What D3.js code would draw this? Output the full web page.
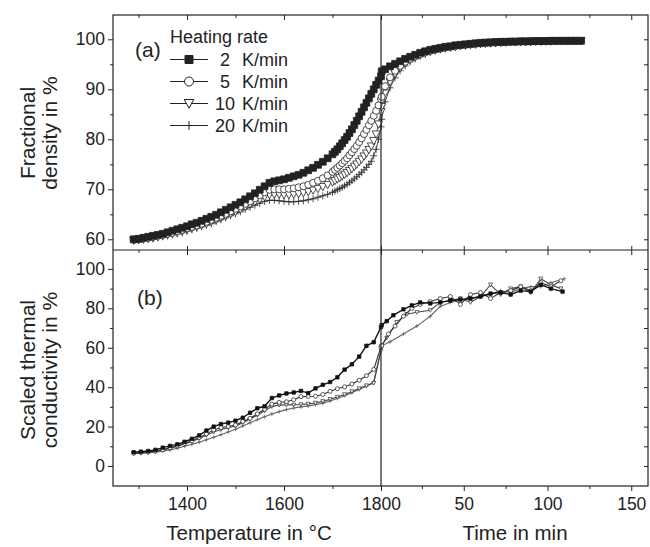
<!DOCTYPE html>
<html><head><meta charset="utf-8">
<script src="https://cdn.jsdelivr.net/npm/d3@7"></script>
<style>
body{margin:0;background:#fff}
svg{display:block}
text{font-family:"Liberation Sans",Arial,Helvetica,sans-serif;fill:#222}
</style>
</head><body><svg id="c" width="650" height="547"></svg>
<script>
// ---------------- DATA ----------------
const seriesNames = ["2  K/min","5  K/min","10 K/min","20 K/min"];
const legendTitle = "Heating rate";

// (a) fractional density vs temperature
const densTemp = [1290,1300,1310,1320,1330,1340,1350,1360,1370,1380,1390,1400,1410,1420,1430,1440,1450,1460,1470,1480,1490,1500,1510,1520,1530,1540,1550,1560,1570,1580,1590,1600,1610,1620,1630,1640,1650,1660,1670,1680,1690,1700,
  1705,1710,1715,1720,1725,1730,1735,1740,1745,1750,1755,1760,1765,1770,1775,1780,1785,1790,1795,1800];
const dens2T = [60.0,60.1,60.3,60.5,60.7,60.9,61.1,61.4,61.7,62.0,62.3,62.6,63.0,63.3,63.7,64.1,64.5,64.9,65.4,65.9,66.4,66.9,67.4,68.0,68.6,69.2,69.9,70.6,71.3,71.6,71.8,72.0,72.3,72.6,72.9,73.3,73.8,74.3,74.9,75.5,76.2,77.0,
  77.5,78.0,78.6,79.2,79.85,80.5,81.25,82.0,82.85,83.7,84.6,85.5,86.4,87.3,88.2,89.1,90.0,90.9,91.75,92.6];
const dens5T = [59.9,60.0,60.2,60.3,60.5,60.7,60.9,61.1,61.3,61.6,61.9,62.2,62.5,62.8,63.1,63.5,63.9,64.3,64.7,65.1,65.6,66.1,66.6,67.1,67.6,68.2,68.8,69.4,69.9,70.0,70.0,70.0,70.1,70.2,70.4,70.6,70.9,71.3,71.7,72.2,72.8,73.5,
  73.9,74.3,74.75,75.2,75.7,76.2,76.8,77.4,78.05,78.7,79.45,80.2,81.05,81.9,82.8,83.7,84.7,85.7,86.8,88.0];
const dens10T = [59.8,59.9,60.0,60.2,60.3,60.5,60.7,60.9,61.1,61.3,61.6,61.9,62.2,62.5,62.8,63.1,63.5,63.9,64.3,64.7,65.1,65.5,66.0,66.5,67.0,67.5,68.0,68.5,68.9,69.0,69.0,68.9,68.9,69.0,69.1,69.3,69.5,69.8,70.1,70.5,70.9,71.4,
  71.7,72.0,72.3,72.6,72.95,73.3,73.7,74.1,74.55,75.0,75.5,76.0,76.6,77.2,77.9,78.6,79.7,81.0,83.0,85.5];
const dens20T = [59.7,59.8,59.9,60.0,60.1,60.3,60.5,60.7,60.9,61.1,61.3,61.6,61.9,62.2,62.5,62.8,63.1,63.5,63.9,64.3,64.7,65.1,65.5,66.0,66.4,66.8,67.2,67.6,67.8,67.8,67.7,67.6,67.5,67.5,67.6,67.7,67.9,68.1,68.4,68.7,69.0,69.4,
  69.65,69.9,70.15,70.4,70.7,71.0,71.35,71.7,72.1,72.5,72.95,73.4,73.9,74.4,75.0,75.6,76.7,78.0,80.0,82.5];
// (a) fractional density vs isothermal time at 1800 °C
const densTime = [1,3,6,9,12,15,18,21,24,27,30,33,36,39,42,45,48,51,54,57,60,63,66,69,72,75,78,81,84,87,90,93,96,99,102,105,108,111,114,117,120];
const dens2t = [93.6,94.0,94.6,95.1,95.6,96.1,96.5,96.9,97.3,97.6,97.9,98.1,98.3,98.5,98.6,98.8,98.9,99.0,99.1,99.2,99.3,99.35,99.4,99.45,99.5,99.5,99.55,99.55,99.6,99.6,99.6,99.65,99.65,99.65,99.7,99.7,99.7,99.7,99.7,99.7,99.7];
const dens5t = [88.5,90.6,92.4,93.7,94.7,95.5,96.1,96.6,97.0,97.4,97.7,97.95,98.15,98.35,98.5,98.65,98.8,98.9,99.0,99.1,99.2,99.25,99.3,99.35,99.4,99.45,99.5,99.5,99.55,99.55,99.6,99.6,99.6,99.65,99.65,99.65,99.7,99.7,99.7,99.7,99.7];
const dens10t = [86.5,89.2,91.5,93.1,94.3,95.2,95.9,96.4,96.9,97.3,97.6,97.85,98.05,98.25,98.4,98.55,98.7,98.8,98.9,99.0,99.1,99.15,99.2,99.3,99.35,99.4,99.45,99.45,99.5,99.5,99.55,99.55,99.6,99.6,99.6,99.65,99.65,99.65,99.7,99.7,99.7];
const dens20t = [84.0,87.5,90.3,92.3,93.7,94.7,95.5,96.1,96.6,97.0,97.35,97.65,97.9,98.1,98.3,98.45,98.6,98.7,98.8,98.9,99.0,99.1,99.15,99.2,99.3,99.35,99.4,99.4,99.45,99.5,99.5,99.55,99.55,99.6,99.6,99.6,99.65,99.65,99.65,99.7,99.7];

// (b) scaled thermal conductivity vs temperature
const condTemp = [1290,1305,1320,1335,1350,1365,1380,1395,1410,1425,1440,1455,1470,1485,1500,1515,1530,1545,1560,1575,1590,1605,1620,1635,1650,1665,1680,1695,1710,1725,1740,1755,1770,1785,1800];
const cond2T = [7.0,7.3,7.6,8.2,9.3,10.2,11.0,12.3,13.8,15.5,18.0,20.0,21.3,22.0,23.0,24.5,27.0,29.3,30.3,34.5,35.8,36.8,37.3,38.1,37.0,39.4,41.2,42.6,45.0,48.9,51.6,55.5,61.0,62.8,70.5];
const cond5T = [6.5,6.8,7.1,7.6,8.3,9.2,10.2,11.5,12.8,14.4,16.3,18.3,19.5,20.0,20.8,22.6,24.2,26.5,28.8,31.4,32.3,32.6,33.6,35.2,35.3,35.4,36.3,37.9,39.2,40.2,41.6,43.5,45.8,49.0,60.5];
const cond10T = [6.4,6.6,6.9,7.4,8.1,9.0,10.0,11.2,12.5,14.0,15.6,17.2,18.5,19.4,20.3,22.0,23.8,25.8,28.0,30.2,30.9,31.0,31.0,31.2,31.5,32.0,32.8,33.9,35.0,36.3,37.8,39.3,40.8,42.0,58.5];
const cond20T = [6.3,6.5,6.7,7.0,7.5,8.2,9.0,10.0,11.0,12.1,13.3,14.6,15.9,17.3,18.7,20.3,21.9,23.5,25.0,26.4,27.6,28.6,29.4,30.0,30.5,31.1,31.9,33.0,34.3,35.7,37.2,38.8,40.4,42.8,59.0];
// (b) scaled thermal conductivity vs time
const cond2Time = [1,4,8,14,19,24,30,36,42,48,54,60,66,72,78,84,90,96,102,109];
const cond2t = [71.5,73.5,76.5,79.5,81.5,83.0,82.5,83.0,84.0,84.5,85.0,86.0,87.5,88.0,87.0,89.0,88.5,92.0,90.0,88.5];
const cond5Time = [1,5,9,14,19,24,30,36,42,48,54,60,66,72,78,84,90,96,102,108];
const cond5t = [61,67,71,76,80,82,83.5,85,86,82,87,88,85,88,89,91,89,93,91,94];
const cond10Time = [1,4,10,16,22,30,36,42,48,54,60,66,72,78,84,90,96,102,108];
const cond10t = [61,65,73,77,78,79,83,84,85,83,86,92,87,90,91,88,95,92,90];
const cond20Time = [1,6,14,22,30,36,42,48,54,60,66,72,78,84,90,96,102,110];
const cond20t = [61,63,67,71,76,81,83,84,85,86,87,89,88,90,91,91,93,95];

const tempTicks = [1400,1600,1800], tempMinor = [1300,1500,1700];
const timeTicks = [50,100,150], timeMinor = [25,75,125];
const densTicks = [60,70,80,90,100], densMinor = [65,75,85,95];
const condTicks = [0,20,40,60,80,100], condMinor = [10,30,50,70,90];

// ---------------- LAYOUT ----------------
const svg = d3.select('#c');
const L=113, R=648, T=15, M=250, B=486, XD=381;
const xT = d3.scaleLinear().domain([1247.4,1800]).range([L,XD]);
const xt = d3.scaleLinear().domain([0,160]).range([380,R]);
const yA = d3.scaleLinear().domain([57.86,104.86]).range([M,T]);
const yB = d3.scaleLinear().domain([-10.15,109.6]).range([B,M]);
const ink = '#222';

svg.append('rect').attr('width',650).attr('height',547).attr('fill','#fff');

function pts(temps, tv, times, tt, y){
  const n1 = Math.min(temps.length, tv.length), n2 = Math.min(times.length, tt.length);
  const a = temps.slice(0,n1).map((d,i)=>({x:xT(d), y:y(tv[i])}));
  const b = times.slice(0,n2).map((d,i)=>({x:xt(d), y:y(tt[i])}));
  return a.concat(b);
}
const line = d3.line().x(d=>d.x).y(d=>d.y);

const mk = {
  sq: s => `M${-s/2},${-s/2}h${s}v${s}h${-s}Z`,
  ci: s => d3.arc()({innerRadius:0,outerRadius:s/2,startAngle:0,endAngle:2*Math.PI}),
  tri: s => `M${-s/2},${-s*0.42}L${s/2},${-s*0.42}L0,${s*0.5}Z`,
  plus: s => `M${-s/2},0H${s/2}M0,${-s/2}V${s/2}`
};
const styles = [
  {m:'sq', fill:ink},
  {m:'ci', fill:'#fff'},
  {m:'tri', fill:'#fff'},
  {m:'plus', fill:'none'}
];

// ---------------- PANEL (a) ----------------
const densSets = [
  pts(densTemp,dens2T,densTime,dens2t,yA),
  pts(densTemp,dens5T,densTime,dens5t,yA),
  pts(densTemp,dens10T,densTime,dens10t,yA),
  pts(densTemp,dens20T,densTime,dens20t,yA)
];
const gA = svg.append('g');
[3,2,1,0].forEach(k=>{
  const st = styles[k];
  gA.append('path').attr('d',line(densSets[k])).attr('fill','none').attr('stroke',ink).attr('stroke-width',0.8);
  const sz = [6.8,7,8,7][k];
  gA.selectAll(null).data(densSets[k]).join('path')
    .attr('transform',d=>`translate(${d.x},${d.y})`)
    .attr('d',mk[st.m](sz)).attr('fill',st.fill).attr('stroke',ink).attr('stroke-width',0.8);
});

// ---------------- PANEL (b) ----------------
const condSets = [
  pts(condTemp,cond2T,cond2Time,cond2t,yB),
  pts(condTemp,cond5T,cond5Time,cond5t,yB),
  pts(condTemp,cond10T,cond10Time,cond10t,yB),
  pts(condTemp,cond20T,cond20Time,cond20t,yB)
];
const condCol = ['#111','#333','#444','#666'];
const gB = svg.append('g');
[3,2,1,0].forEach(k=>{
  const st = styles[k];
  gB.append('path').attr('d',line(condSets[k])).attr('fill','none').attr('stroke',condCol[k]).attr('stroke-width',k===0?1.4:1.1);
  const sz = [3.4,4,4,4][k];
  gB.selectAll(null).data(condSets[k]).join('path')
    .attr('transform',d=>`translate(${d.x},${d.y})`)
    .attr('d',mk[st.m](sz)).attr('fill',st.fill==='#fff'?'#fff':(st.fill==='none'?'none':condCol[k])).attr('stroke',condCol[k]).attr('stroke-width',0.8);
});

// ---------------- AXES ----------------
function clean(g){ g.select('.domain').remove(); g.selectAll('line').attr('stroke',ink).attr('stroke-width',1);
  g.selectAll('text').attr('fill',ink).style('font-size','17.5px').style('font-family','"Liberation Sans",Arial,sans-serif'); }
const fmt = d3.format('d');
svg.append('g').attr('transform',`translate(${L},0)`).call(d3.axisLeft(yA).tickValues(densTicks).tickSize(5).tickPadding(3).tickFormat(fmt)).call(clean);
svg.append('g').attr('transform',`translate(${L},0)`).call(d3.axisLeft(yA).tickValues(densMinor).tickSize(3).tickFormat('')).call(clean);
svg.append('g').attr('transform',`translate(${L},0)`).call(d3.axisLeft(yB).tickValues(condTicks).tickSize(5).tickPadding(3).tickFormat(fmt)).call(clean);
svg.append('g').attr('transform',`translate(${L},0)`).call(d3.axisLeft(yB).tickValues(condMinor).tickSize(3).tickFormat('')).call(clean);
svg.append('g').attr('transform',`translate(${R},0)`).call(d3.axisLeft(yA).tickValues(densTicks.concat(densMinor)).tickSize(4).tickFormat('')).call(clean);
svg.append('g').attr('transform',`translate(${R},0)`).call(d3.axisLeft(yB).tickValues(condTicks.concat(condMinor)).tickSize(4).tickFormat('')).call(clean);
svg.append('g').attr('transform',`translate(0,${B})`).call(d3.axisBottom(xT).tickValues(tempTicks).tickSize(5).tickPadding(7).tickFormat(fmt)).call(clean);
svg.append('g').attr('transform',`translate(0,${B})`).call(d3.axisBottom(xT).tickValues(tempMinor).tickSize(3).tickFormat('')).call(clean);
svg.append('g').attr('transform',`translate(0,${B})`).call(d3.axisBottom(xt).tickValues(timeTicks).tickSize(5).tickPadding(7).tickFormat(fmt)).call(clean);
svg.append('g').attr('transform',`translate(0,${B})`).call(d3.axisBottom(xt).tickValues(timeMinor).tickSize(3).tickFormat('')).call(clean);
[[xT,tempTicks,5],[xT,tempMinor,3],[xt,timeTicks,5],[xt,timeMinor,3]].forEach(([s,v,n])=>{
  svg.append('g').attr('transform',`translate(0,${M})`).call(d3.axisBottom(s).tickValues(v).tickSize(n).tickFormat('')).call(clean);
});
[[xT,tempTicks],[xt,timeTicks]].forEach(([s,v])=>{
  svg.append('g').attr('transform',`translate(0,${M})`).call(d3.axisTop(s).tickValues(v).tickSize(4).tickFormat('')).call(clean);
});
[[xT,tempTicks,5],[xT,tempMinor,3],[xt,timeTicks,5],[xt,timeMinor,3]].forEach(([s,v,n])=>{
  svg.append('g').attr('transform',`translate(0,${T})`).call(d3.axisTop(s).tickValues(v).tickSize(-n).tickFormat('')).call(clean);
});

const fr = svg.append('g').attr('stroke',ink).attr('stroke-width',1.2).attr('fill','none');
fr.append('rect').attr('x',L).attr('y',T).attr('width',R-L).attr('height',B-T);
fr.append('line').attr('x1',L).attr('x2',R).attr('y1',M).attr('y2',M);
fr.append('line').attr('x1',xT(1800)).attr('x2',xT(1800)).attr('y1',T).attr('y2',B);

// ---------------- TEXT ----------------
const tx = (x,y,s,size,anchor,rot)=>{
  const t = svg.append('text').attr('x',x).attr('y',y).text(s).style('font-size',size+'px').attr('text-anchor',anchor||'start');
  if(rot) t.attr('transform',`rotate(-90,${x},${y})`);
  return t;
};
tx(249,540,'Temperature in °C',20.5,'middle');
tx(515,540,'Time in min',20.5,'middle');
tx(35,133,'Fractional',21,'middle',true);
tx(57,133,'density in %',21,'middle',true);
tx(35,370,'Scaled thermal',21,'middle',true);
tx(57,370,'conductivity in %',21,'middle',true);
tx(135,57,'(a)',21);
tx(137,305,'(b)',21);

tx(170,43,legendTitle,18);
const rowsY = [59.5,81.5,103.5,125.5];
seriesNames.forEach((n,i)=>{
  const y = rowsY[i];
  svg.append('line').attr('x1',170).attr('x2',208).attr('y1',y).attr('y2',y).attr('stroke',ink).attr('stroke-width',1);
  const st = styles[i];
  svg.append('path').attr('transform',`translate(189,${y})`).attr('d',mk[st.m]([8,9,9.5,9][i]))
    .attr('fill',st.fill).attr('stroke',ink).attr('stroke-width',1);
  const parts = n.split(/\s+/);
  tx(parts[0].length>1?215:220, y+6.5, parts[0], 18);
  tx(242, y+6.5, parts[1], 18);
});
</script>
</body></html>
